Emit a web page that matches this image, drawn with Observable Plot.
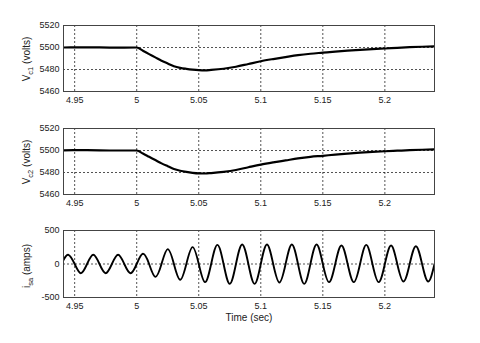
<!DOCTYPE html>
<html>
<head>
<meta charset="utf-8">
<script src="https://cdn.jsdelivr.net/npm/d3@7"></script>
<script src="https://cdn.jsdelivr.net/npm/@observablehq/plot@0.6"></script>
<style>
  html, body { margin: 0; padding: 0; background: #fff; }
  #wrap { position: relative; width: 480px; height: 343px; background: #fff; overflow: hidden; }
  #wrap svg { position: absolute; left: 0; }
</style>
</head>
<body>
<div id="wrap"></div>
<script>
// ---- data ----
const xTicks = [4.95, 5, 5.05, 5.1, 5.15, 5.2];
const vTicks = [5460, 5480, 5500, 5520];
const iTicks = [-500, 0, 500];

const vTime = [4.941, 4.96, 4.98, 5.0, 5.005, 5.01, 5.015, 5.02, 5.025, 5.03, 5.035, 5.04, 5.045, 5.05, 5.055, 5.06, 5.07, 5.08, 5.09, 5.1, 5.11, 5.12, 5.13, 5.14, 5.15, 5.16, 5.17, 5.18, 5.19, 5.2, 5.21, 5.22, 5.23, 5.24];
const vc1 = [5500, 5500.2, 5499.9, 5500, 5497, 5494, 5491, 5488, 5485.5, 5483, 5481.5, 5480.6, 5479.9, 5479.4, 5479.2, 5479.6, 5480.7, 5482.5, 5485, 5487.5, 5489.5, 5491.3, 5493, 5494.3, 5495.3, 5496.3, 5497.1, 5497.8, 5498.5, 5499.1, 5499.7, 5500.3, 5500.7, 5501];
const vc2 = [5500.2, 5500.3, 5500, 5500, 5497.3, 5494.3, 5491.3, 5488.3, 5485.7, 5483.2, 5481.6, 5480.5, 5479.7, 5479.2, 5479.1, 5479.5, 5480.6, 5482.3, 5484.8, 5487.2, 5489.2, 5491, 5492.8, 5494.2, 5495.2, 5496.3, 5497.2, 5498, 5498.7, 5499.3, 5499.8, 5500.3, 5500.7, 5501];

const iTime = [4.941, 4.945, 4.95, 4.955, 4.96, 4.965, 4.97, 4.975, 4.98, 4.985, 4.99, 4.995, 5.0, 5.005, 5.01, 5.015, 5.02, 5.025, 5.03, 5.035, 5.04, 5.045, 5.05, 5.055, 5.06, 5.065, 5.07, 5.075, 5.08, 5.085, 5.09, 5.095, 5.1, 5.105, 5.11, 5.115, 5.12, 5.125, 5.13, 5.135, 5.14, 5.145, 5.15, 5.155, 5.16, 5.165, 5.17, 5.175, 5.18, 5.185, 5.19, 5.195, 5.2, 5.205, 5.21, 5.215, 5.22, 5.225, 5.23, 5.235, 5.24];
const isa = [60, 137, 0, -137, 0, 137, 0, -137, 0, 137, 0, -137, 0, 152, 0, -192, 0, 222, 0, -236, 0, 252, 0, -271, 0, 286, 0, -296, 0, 291, 0, -296, 0, 291, 0, -275, 0, 291, 0, -296, 0, 291, 0, -271, 0, 276, 0, -271, 0, 286, 0, -271, 0, 276, 0, -262, 0, 266, 0, -262, 0];

// ---- build tables ----
const v1Data = vTime.map((t, i) => ({t, v: vc1[i]}));
const v2Data = vTime.map((t, i) => ({t, v: vc2[i]}));
const iData = iTime.map((t, i) => ({t, v: isa[i]}));

const W = 480, ML = 63, MR = 46;
const wrap = document.getElementById("wrap");

function panel({data, yDomain, yTicks, top, height, marginTop, marginBottom, curve, sw, labelMain, labelSub, labelUnit, labelY}) {
  const chart = Plot.plot({
    width: W, height,
    marginLeft: ML, marginRight: MR, marginTop, marginBottom,
    style: {fontFamily: "'Liberation Sans', Arial, sans-serif", fontSize: "9px", color: "#222", background: "transparent", overflow: "visible"},
    x: {domain: [4.941, 5.24]},
    y: {domain: yDomain},
    marks: [
      Plot.gridX(xTicks, {stroke: "#000", strokeOpacity: 0.85, strokeWidth: 0.8, strokeDasharray: "2,2"}),
      Plot.gridY(yTicks, {stroke: "#000", strokeOpacity: 0.85, strokeWidth: 0.8, strokeDasharray: "2,2"}),
      Plot.line(data, {x: "t", y: "v", curve, stroke: "#000", strokeWidth: sw, clip: true}),
      Plot.frame({stroke: "#444", strokeWidth: 1}),
      Plot.axisX(xTicks, {tickSize: 0, tickPadding: 5, label: null, tickFormat: d => String(d)}),
      Plot.axisY(yTicks, {tickSize: 0, tickPadding: 4, label: null, tickFormat: d => String(d)})
    ]
  });
  chart.style.top = top + "px";
  const svg = d3.select(chart);
  const txt = svg.append("text")
    .attr("transform", `translate(30,${labelY - top}) rotate(-90)`)
    .attr("text-anchor", "middle")
    .attr("fill", "#222")
    .style("font-size", "10px");
  txt.append("tspan").text(labelMain);
  txt.append("tspan").attr("dy", "3").style("font-size", "7.5px").text(labelSub);
  txt.append("tspan").attr("dy", "-3").text(" " + labelUnit);
  wrap.appendChild(chart);
  return chart;
}

panel({data: v1Data, yDomain: [5460, 5520], yTicks: vTicks, top: 0, height: 110, marginTop: 25, marginBottom: 19, curve: "monotone-x", sw: 2.2, labelMain: "V", labelSub: "c1", labelUnit: "(volts)", labelY: 59});
panel({data: v2Data, yDomain: [5460, 5520], yTicks: vTicks, top: 110, height: 110, marginTop: 18, marginBottom: 26, curve: "monotone-x", sw: 2.2, labelMain: "V", labelSub: "c2", labelUnit: "(volts)", labelY: 162});
const p3 = panel({data: iData, yDomain: [-500, 500], yTicks: iTicks, top: 220, height: 123, marginTop: 10, marginBottom: 46, curve: "natural", sw: 1.9, labelMain: "i", labelSub: "sa", labelUnit: "(amps)", labelY: 266});

d3.select(p3).append("text")
  .attr("x", 249).attr("y", 321 - 220)
  .attr("text-anchor", "middle")
  .attr("fill", "#222")
  .style("font-size", "10px")
  .text("Time (sec)");
</script>
</body>
</html>
